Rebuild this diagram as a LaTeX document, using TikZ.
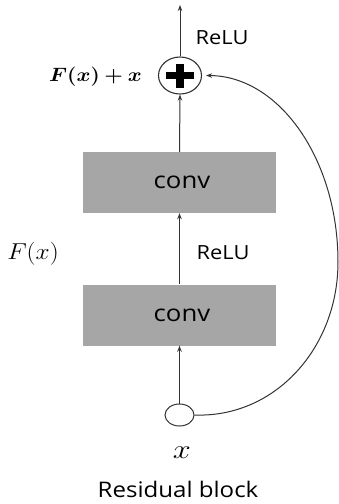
\RequirePackage{fix-cm}
\documentclass[tikz,border=0pt]{standalone}
\usepackage{fontspec}
\usepackage{amsmath}
\usepackage{bm}
\usepackage{graphicx}
\setmainfont{Open Sans}[FakeStretch=1.12]
\usetikzlibrary{arrows.meta,shapes.geometric}
\definecolor{boxgray}{HTML}{A6A6A6}
\definecolor{linegray}{HTML}{333333}
\newcommand{\widemath}[2][1.1]{\scalebox{#1}[1]{#2}}
\begin{document}
\begin{tikzpicture}[x=1pt,y=-1pt,
  convbox/.style={draw=none,fill=boxgray,minimum width=193pt,minimum height=61pt,inner sep=0pt,font=\fontsize{23}{25}\selectfont},
  flow/.style={draw=linegray,line width=1pt,-{Stealth[length=6pt,width=4.5pt]}},
  lbl/.style={font=\fontsize{19.5}{22}\selectfont,inner sep=0pt}
]
\useasboundingbox (0,0) rectangle (339,504);
% layers
\node[convbox] (c2) at (179.5,182.5) {\hspace*{5pt}\raisebox{-2pt}{conv}};
\node[convbox] (c1) at (179.5,315) {\hspace*{5pt}\raisebox{-2pt}{conv}};
% summation node
\node[ellipse,draw=linegray,line width=1.1pt,minimum width=43pt,minimum height=37pt,inner sep=0pt] (sum) at (180,75.5) {};
\fill[black] ([xshift=-14pt,yshift=-3.7pt]sum.center) rectangle ([xshift=14pt,yshift=3.7pt]sum.center);
\fill[black] ([xshift=-3.9pt,yshift=-12pt]sum.center) rectangle ([xshift=3.9pt,yshift=12pt]sum.center);
% input node
\node[ellipse,draw=linegray,line width=1pt,minimum width=29pt,minimum height=22pt,inner sep=0pt] (in) at (179.5,415) {};
\coordinate (top) at (180,5);
% connectors
\draw[flow] (in.east) .. controls (275,418) and (338,348) .. (338,262)
  .. controls (338,159) and (279,76) .. ([xshift=4pt]sum.east);
\draw[flow] (in.north) -- (c1.south);
\draw[flow] (c1.north) -- (c2.south);
\draw[flow] (c2.north) -- (sum.south);
\draw[flow] (sum.north) -- (top);
% labels
\node[lbl] (relu1) at (222,37.5) {ReLU};
\node[lbl] (relu2) at (223,253) {ReLU};
\node[inner sep=0pt,anchor=east,font=\fontsize{19.3}{22}\selectfont] (fx1) at (142,77) {\widemath{$\bm{F(x)+x}$}};
\node[inner sep=0pt,font=\fontsize{23}{25}\selectfont] (fx2) at (33,254) {\widemath{$F(x)$}};
\node[inner sep=0pt,font=\fontsize{27}{30}\selectfont] (x) at (182,453) {\widemath[1.2]{$x$}};
\node[lbl,font=\fontsize{21.5}{24}\selectfont] (cap) at (178,489) {Residual block};
\end{tikzpicture}
\end{document}
